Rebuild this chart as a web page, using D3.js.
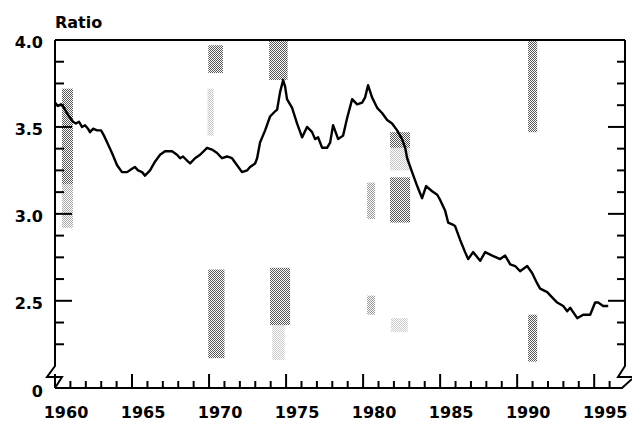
<!DOCTYPE html>
<html>
<head>
<meta charset="UTF-8">
<script src="https://d3js.org/d3.v7.min.js"></script>
<style>
  body { margin: 0; background: #fff; }
  svg text { font-family: 'DejaVu Sans', sans-serif; font-weight: bold; font-size: 16px; fill: #000; }
</style>
</head>
<body>
<svg id="chart" width="632" height="423"></svg>
<script>
  // ratio series (decimal years)
  const years = [1960.00,1960.19,1960.39,1960.58,1960.84,1961.17,1961.36,1961.56,1961.75,1961.95,
    1962.14,1962.27,1962.47,1962.73,1962.99,1963.18,1963.44,1963.70,1964.03,1964.35,1964.68,
    1965.00,1965.19,1965.39,1965.65,1965.84,1966.17,1966.49,1966.82,1967.14,1967.60,1967.92,
    1968.12,1968.31,1968.64,1968.77,1969.09,1969.42,1969.87,1970.19,1970.52,1970.84,1971.17,
    1971.49,1971.82,1972.14,1972.47,1972.66,1972.99,1973.12,1973.31,1973.64,1973.96,1974.29,
    1974.42,1974.61,1974.81,1974.94,1975.06,1975.39,1975.71,1976.04,1976.36,1976.69,1976.88,
    1977.08,1977.34,1977.66,1977.86,1978.05,1978.38,1978.70,1978.96,1979.29,1979.61,1979.94,
    1980.13,1980.32,1980.58,1980.91,1981.23,1981.56,1981.88,1982.21,1982.53,1982.73,1982.86,
    1983.18,1983.51,1983.83,1984.09,1984.48,1984.81,1985.00,1985.32,1985.52,1985.78,1985.97,
    1986.30,1986.62,1986.82,1987.14,1987.60,1987.92,1988.38,1988.90,1989.22,1989.55,1989.87,
    1990.19,1990.65,1990.97,1991.30,1991.49,1991.95,1992.27,1992.60,1992.99,1993.25,1993.44,
    1993.90,1994.29,1994.74,1995.06,1995.26,1995.58,1995.91];
  const ratio = [3.64,3.62,3.63,3.61,3.57,3.53,3.52,3.53,3.50,3.51,
    3.49,3.47,3.49,3.48,3.48,3.45,3.40,3.35,3.28,3.24,3.24,
    3.26,3.27,3.25,3.24,3.22,3.25,3.30,3.34,3.36,3.36,3.34,
    3.32,3.33,3.30,3.29,3.32,3.34,3.38,3.37,3.35,3.32,3.33,
    3.32,3.28,3.24,3.25,3.27,3.29,3.32,3.41,3.48,3.56,3.59,
    3.60,3.70,3.77,3.73,3.66,3.61,3.52,3.44,3.50,3.47,3.43,
    3.44,3.38,3.38,3.41,3.51,3.43,3.45,3.55,3.66,3.63,3.64,
    3.67,3.74,3.67,3.61,3.58,3.54,3.52,3.48,3.43,3.38,3.32,
    3.24,3.16,3.09,3.16,3.13,3.11,3.08,3.02,2.95,2.94,2.93,
    2.85,2.78,2.74,2.78,2.73,2.78,2.76,2.74,2.76,2.71,2.70,
    2.67,2.70,2.66,2.60,2.57,2.55,2.52,2.49,2.47,2.44,2.46,
    2.40,2.42,2.42,2.49,2.49,2.47,2.47];

  // recession shading, as the visible (dithered) patches: start, end, low, high, density
  const shadeStart = [1960.45,1960.45,1969.95,1969.90,1969.95,1973.90,1973.96,1974.10,1980.26,1980.26,1981.75,1981.75,1981.75,1981.80,1990.71,1990.71];
  const shadeEnd   = [1961.17,1961.17,1970.90,1970.30,1971.00,1975.10,1975.26,1974.90,1980.78,1980.78,1983.05,1983.05,1983.05,1982.90,1991.30,1991.30];
  const shadeLow   = [3.17,2.92,3.81,3.45,2.17,3.77,2.36,2.16,2.97,2.42,3.38,3.25,2.95,2.32,3.47,2.15];
  const shadeHigh  = [3.72,3.17,3.97,3.72,2.68,4.00,2.69,2.36,3.18,2.53,3.47,3.38,3.21,2.40,4.00,2.42];
  const shadeDens  = [1,0.5,1,0.35,1,1,1,0.3,0.6,0.6,1,0.35,1,0.3,1,1];

  const yTickLabels = [0, 2.5, 3.0, 3.5, 4.0];
  const yMinorTicks = d3.range(2.25, 4.0001, 0.125);
  const xTickYears = d3.range(1960, 1997);
  const xLabelYears = [1960, 1965, 1970, 1975, 1980, 1985, 1990, 1995];

  const plotL = 55, plotR = 625, plotT = 40, plotB = 388;
  const svg = d3.select('#chart');

  const x = d3.scaleLinear().domain([1960, 1997]).range([plotL, plotR]);
  // broken axis: 0 at the base, 2.125..4.0 stretched above the break
  const y = d3.scaleLinear().domain([0, 2.125, 4.0]).range([plotB, 366, plotT]);

  const defs = svg.append('defs');
  const pat = defs.append('pattern').attr('id', 'dither')
    .attr('patternUnits', 'userSpaceOnUse').attr('width', 2).attr('height', 2);
  pat.append('rect').attr('x', 0).attr('y', 0).attr('width', 1).attr('height', 1).attr('fill', '#555');
  pat.append('rect').attr('x', 1).attr('y', 1).attr('width', 1).attr('height', 1).attr('fill', '#555');

  const shades = shadeStart.map((s, i) => ({s, e: shadeEnd[i], lo: shadeLow[i], hi: shadeHigh[i], d: shadeDens[i]}));
  svg.append('g').selectAll('rect').data(shades).join('rect')
    .attr('x', d => x(d.s))
    .attr('width', d => x(d.e) - x(d.s))
    .attr('y', d => y(d.hi))
    .attr('height', d => y(d.lo) - y(d.hi))
    .attr('fill', 'url(#dither)')
    .attr('opacity', d => d.d);

  // frame and broken axes
  const axis = svg.append('g').attr('stroke', '#000').attr('stroke-width', 2).attr('fill', 'none');
  const yBreak = y(2.125);
  axis.append('line').attr('x1', plotL).attr('x2', plotR).attr('y1', plotT).attr('y2', plotT);
  axis.append('path').attr('d', `M${plotL},${plotT}V${yBreak}L${plotL - 8},${yBreak + 11}H${plotL + 7}L${plotL},${plotB}`);
  axis.append('path').attr('d', `M${plotR},${plotT}V${yBreak}L${plotR - 7},${yBreak + 11}H${plotR + 7}`);
  axis.append('path').attr('d', `M${plotL},${plotB}H${plotR - 3}L${plotR + 7},${plotB - 9}`);

  // y ticks, pointing inward on both sides
  const major = v => Math.abs(v * 2 - Math.round(v * 2)) < 1e-6;
  axis.selectAll('line.yl').data(yMinorTicks).join('line').attr('class', 'yl')
    .attr('x1', plotL).attr('x2', d => plotL + (major(d) ? 17 : 9))
    .attr('y1', d => y(d)).attr('y2', d => y(d));
  axis.selectAll('line.yr').data(yMinorTicks).join('line').attr('class', 'yr')
    .attr('x1', plotR).attr('x2', d => plotR - (major(d) ? 17 : 8))
    .attr('y1', d => y(d)).attr('y2', d => y(d));

  // x ticks, every year, pointing up
  axis.selectAll('line.xt').data(xTickYears).join('line').attr('class', 'xt')
    .attr('x1', d => x(d)).attr('x2', d => x(d))
    .attr('y1', plotB).attr('y2', d => plotB - (d % 5 === 0 ? 14 : 7));

  svg.append('g').selectAll('text').data(yTickLabels).join('text')
    .attr('x', 43).attr('y', d => y(d)).attr('dy', d => d === 0 ? 9 : 8)
    .attr('text-anchor', 'end')
    .text(d => d === 0 ? '0' : d.toFixed(1));

  svg.append('g').selectAll('text').data(xLabelYears).join('text')
    .attr('x', d => x(d) + 11).attr('y', 418)
    .attr('text-anchor', 'middle')
    .text(d => d);

  svg.append('text').attr('x', 55).attr('y', 28).text('Ratio');

  const series = years.map((t, i) => [t, ratio[i]]);
  svg.append('path').datum(series)
    .attr('fill', 'none').attr('stroke', '#000').attr('stroke-width', 2.4)
    .attr('stroke-linejoin', 'round')
    .attr('d', d3.line().x(d => x(d[0])).y(d => y(d[1])));
</script>
</body>
</html>
